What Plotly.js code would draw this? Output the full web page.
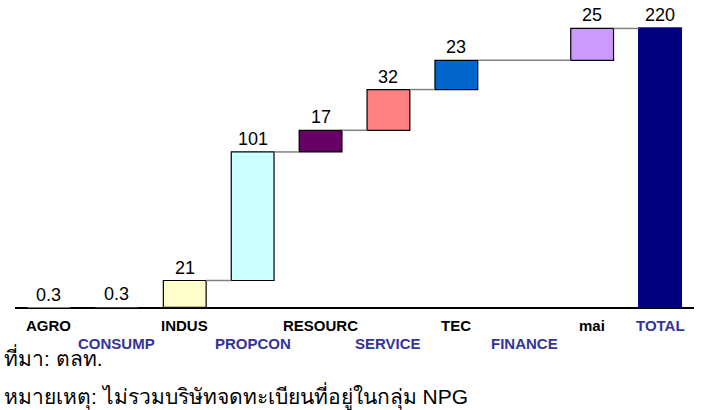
<!DOCTYPE html>
<html>
<head>
<meta charset="utf-8">
<script src="https://cdn.plot.ly/plotly-3.0.1.min.js"></script>
<style>
  body { margin: 0; background: #fff; }
  #chart { width: 707px; height: 410px; }
</style>
</head>
<body>
<div id="chart"></div>
<script>
// หมวดอุตสาหกรรม และมูลค่า
let categories = ["AGRO", "CONSUMP", "INDUS", "PROPCON", "RESOURC", "SERVICE", "TEC", "FINANCE", "mai", "TOTAL"];
let values = [0.3, 0.3, 21, 101, 17, 32, 23, 0, 25, 220];
let valueLabels = ["0.3", "0.3", "21", "101", "17", "32", "23", "", "25", "220"];
let isTotal = [false, false, false, false, false, false, false, false, false, true];
let barColors = ["#FFFFCC", "#FFFFCC", "#FFFFCC", "#CCFFFF", "#660066", "#FF8080", "#0066CC", "#FFFFFF", "#CC99FF", "#000080"];
let labelColors = ["#000000", "#333399", "#000000", "#333399", "#000000", "#333399", "#000000", "#333399", "#000000", "#333399"];
let labelRow = [1, 2, 1, 2, 1, 2, 1, 2, 1, 1];

let xs = categories.map((c, i) => i);
let barW = 0.63;

// ฐานของแต่ละแท่ง (ยอดสะสม)
let bases = [];
let tops = [];
let running = 0;
values.forEach((v, i) => {
    if (isTotal[i]) {
        bases.push(0);
        tops.push(v);
    } else {
        bases.push(running);
        running += v;
        tops.push(running);
    }
});

// เส้นเชื่อม (ข้ามแท่งที่เป็นศูนย์ และแท่งที่เล็กมาก)
let shown = xs.filter(i => values[i] >= 1);
let cx = [], cy = [];
for (let k = 0; k < shown.length - 1; k++) {
    let a = shown[k], b = shown[k + 1];
    cx.push(xs[a] + barW / 2, xs[b] - barW / 2, null);
    cy.push(tops[a], tops[a], null);
}

let traceBar = {
    type: 'bar',
    x: xs,
    y: values,
    base: bases,
    width: barW,
    marker: {
        color: barColors,
        line: {
            color: values.map((v, i) => isTotal[i] ? '#000080' : '#000000'),
            width: values.map(v => v < 1 ? 0 : 1.2)
        }
    },
    hoverinfo: 'none'
};

let traceConn = {
    type: 'scatter',
    mode: 'lines',
    x: cx,
    y: cy,
    line: { color: '#808080', width: 1.5 },
    hoverinfo: 'none'
};

let annotations = [];
xs.forEach((x, i) => {
    if (valueLabels[i] !== "") {
        annotations.push({
            x: x, y: tops[i], xref: 'x', yref: 'y',
            text: valueLabels[i], showarrow: false,
            yanchor: 'bottom', yshift: 1,
            font: { family: 'Arial, Liberation Sans, sans-serif', size: 18, color: '#000' }
        });
    }
    annotations.push({
        x: x, y: labelRow[i] === 1 ? -0.059 : -0.115, xref: 'x', yref: 'paper',
        text: '<b>' + categories[i] + '</b>', showarrow: false,
        yanchor: 'middle',
        font: { family: 'Arial, Liberation Sans, sans-serif', size: 15, color: labelColors[i] }
    });
});

annotations.push({
    x: 0, y: -0.16, xref: 'paper', yref: 'paper', xanchor: 'left', yanchor: 'middle', xshift: -13,
    text: 'ที่มา: ตลท.', showarrow: false,
    font: { family: 'Arial, Liberation Sans, sans-serif', size: 21, color: '#000' }
});
annotations.push({
    x: 0, y: -0.29, xref: 'paper', yref: 'paper', xanchor: 'left', yanchor: 'middle', xshift: -13,
    text: 'หมายเหตุ: ไม่รวมบริษัทจดทะเบียนที่อยู่ในกลุ่ม NPG', showarrow: false,
    font: { family: 'Arial, Liberation Sans, sans-serif', size: 21, color: '#000' }
});

let layout = {
    width: 707,
    height: 410,
    margin: { l: 15, r: 13, t: 3, b: 102 },
    paper_bgcolor: '#ffffff',
    plot_bgcolor: '#ffffff',
    showlegend: false,
    barmode: 'overlay',
    xaxis: {
        range: [-0.5, 9.5],
        showticklabels: false,
        showgrid: false,
        zeroline: false,
        showline: false,
        ticks: ''
    },
    yaxis: {
        range: [0, 239.6],
        showticklabels: false,
        showgrid: false,
        zeroline: true,
        zerolinecolor: '#000000',
        zerolinewidth: 1.5,
        showline: false,
        ticks: ''
    },
    annotations: annotations
};

Plotly.newPlot('chart', [traceConn, traceBar], layout, { staticPlot: true });
</script>
</body>
</html>
